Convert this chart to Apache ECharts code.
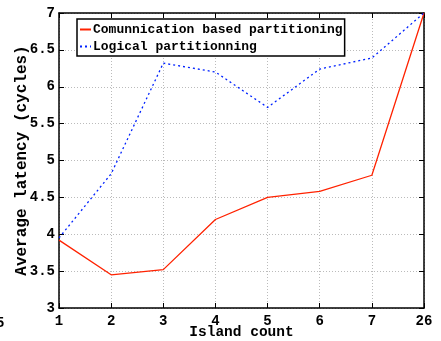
<!DOCTYPE html>
<html><head><meta charset="utf-8">
<script src="https://cdn.jsdelivr.net/npm/echarts@6/dist/echarts.min.js"></script>
<style>html,body{margin:0;padding:0;background:#fff}#c{width:441px;height:341px}</style>
</head><body><div id="c"></div>
<script>
const categories = ['1','2','3','4','5','6','7','26'];
const commBased = [3.92, 3.45, 3.52, 4.2, 4.5, 4.58, 4.8, 7.0];
const logical = [3.95, 4.82, 6.32, 6.2, 5.72, 6.24, 6.39, 7.0];
const seriesNames = ['Comunnication based partitioning', 'Logical partitionning'];
const xTitle = 'Island count';
const yTitle = 'Average latency (cycles)';

const FONT = '"Liberation Mono", "DejaVu Sans Mono", monospace';
const chart = echarts.init(document.getElementById('c'), null, {renderer:'canvas'});
const axisLine = {show:true, lineStyle:{color:'#000', width:1.5}};
const grid = {left:59, right:17, top:13, bottom:33, containLabel:false, outerBoundsMode:'none'};
chart.setOption({
  animation:false,
  grid: grid,
  legend: {
    left: 77, top: 19, orient:'vertical', itemGap: 4, itemWidth: 11, itemHeight: 10,
    borderColor:'#000', borderWidth:1.5, padding:[4,2,3,2],
    backgroundColor:'#fff',
    itemStyle:{opacity:0},
    textStyle:{fontFamily:FONT, fontWeight:'bold', fontSize:13, color:'#000', padding:[0,0,0,-3]},
    data: seriesNames
  },
  xAxis: [{
    type:'category', data:categories, boundaryGap:false, position:'bottom',
    axisLine: axisLine,
    axisTick:{show:true, inside:true, length:5, lineStyle:{color:'#000'}},
    axisLabel:{fontFamily:FONT, fontWeight:'bold', fontSize:14, color:'#000', margin:6},
    splitLine:{show:true, lineStyle:{color:'#bbb', type:[1,2], width:1}},
    name:xTitle, nameLocation:'middle', nameGap:17, nameMoveOverlap:false,
    nameTextStyle:{fontFamily:FONT, fontWeight:'bold', fontSize:14.5, color:'#000'}
  },{
    type:'category', data:categories, boundaryGap:false, position:'top',
    axisLine: axisLine,
    axisTick:{show:true, inside:true, length:5, lineStyle:{color:'#000'}},
    axisLabel:{show:false}, splitLine:{show:false}
  }],
  yAxis: [{
    type:'value', min:3, max:7, interval:0.5, position:'left',
    axisLine: axisLine,
    axisTick:{show:true, inside:true, length:5, lineStyle:{color:'#000'}},
    axisLabel:{fontFamily:FONT, fontWeight:'bold', fontSize:14, color:'#000', margin:4},
    splitLine:{show:true, lineStyle:{color:'#bbb', type:[1,2], width:1}},
    name:yTitle, nameLocation:'middle', nameGap:29, nameMoveOverlap:false,
    nameTextStyle:{fontFamily:FONT, fontWeight:'bold', fontSize:16, color:'#000'}
  },{
    type:'value', min:3, max:7, interval:0.5, position:'right',
    axisLine: axisLine,
    axisTick:{show:true, inside:true, length:5, lineStyle:{color:'#000'}},
    axisLabel:{show:false}, splitLine:{show:false}
  }],
  graphic:[{type:'text', left:-4, top:316, style:{text:'5', fontFamily:FONT, fontWeight:'bold', fontSize:14, fill:'#000'}}],
  series: [{
    name: seriesNames[0], type:'line', data: commBased, symbol:'none',
    lineStyle:{color:'#ff2200', width:1.3}, itemStyle:{color:'#ff2200'}
  },{
    name: seriesNames[1], type:'line', data: logical, symbol:'none',
    lineStyle:{color:'#0022ff', width:1.3, type:[2,3]}, itemStyle:{color:'#0022ff'}
  }]
});
</script></body></html>
